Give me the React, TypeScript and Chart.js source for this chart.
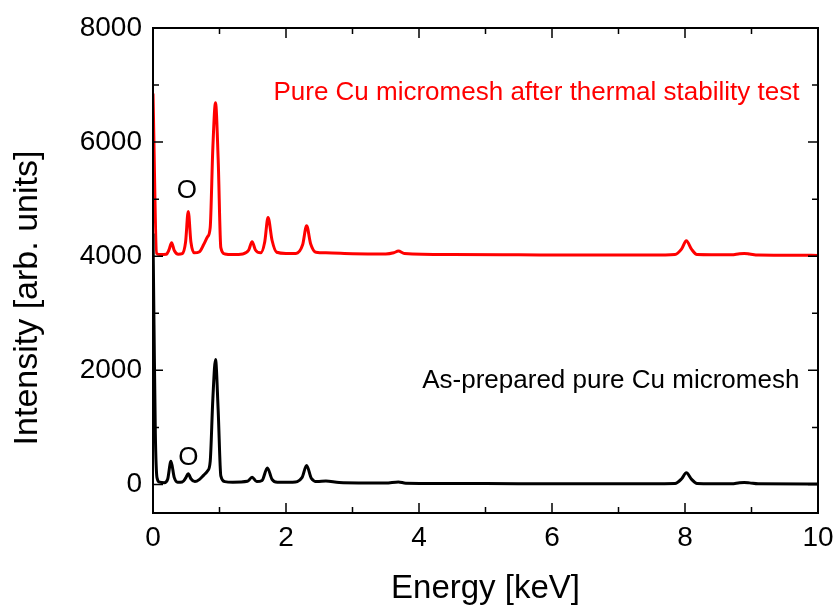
import React, { useEffect, useRef } from "react";
import { Chart, registerables } from "chart.js";

Chart.register(...registerables);

// Energy (keV) and intensity values
const energyAfter = [0, 0.055, 0.1, 0.2, 0.24, 0.28, 0.32, 0.38, 0.44, 0.49, 0.53, 0.57, 0.62, 0.7, 0.76, 0.82, 0.86, 0.9, 0.94, 0.98, 1.02, 1.08, 1.2, 1.35, 1.44, 1.49, 1.54, 1.62, 1.68, 1.73, 1.79, 1.86, 2.0, 2.15, 2.25, 2.31, 2.37, 2.45, 2.6, 3.0, 3.5, 3.62, 3.69, 3.78, 4.5, 5.5, 6.5, 7.5, 7.85, 7.95, 8.02, 8.1, 8.18, 8.7, 8.82, 8.89, 8.97, 9.1, 10];
const intensityAfter = [6850, 4050, 4030, 4035, 4110, 4235, 4100, 4035, 4045, 4250, 4785, 4250, 4060, 4080, 4200, 4340, 4500, 5900, 6690, 5700, 4150, 4040, 4030, 4040, 4110, 4255, 4110, 4060, 4250, 4680, 4280, 4070, 4050, 4050, 4200, 4535, 4220, 4070, 4060, 4045, 4040, 4060, 4090, 4050, 4030, 4025, 4020, 4020, 4030, 4130, 4270, 4120, 4030, 4025, 4045, 4050, 4040, 4020, 4015];

const energyPrepared = [0, 0.015, 0.035, 0.06, 0.1, 0.17, 0.22, 0.27, 0.32, 0.37, 0.44, 0.49, 0.53, 0.57, 0.63, 0.7, 0.76, 0.82, 0.86, 0.9, 0.94, 0.98, 1.02, 1.08, 1.2, 1.42, 1.49, 1.56, 1.64, 1.72, 1.79, 1.87, 2.1, 2.24, 2.31, 2.38, 2.47, 2.6, 2.8, 3.5, 3.69, 3.8, 5, 6, 7, 7.85, 7.95, 8.02, 8.1, 8.18, 8.7, 8.82, 8.89, 8.97, 9.1, 10];
const intensityPrepared = [4400, 2800, 900, 120, 40, 30, 90, 405, 120, 40, 45, 110, 190, 100, 50, 90, 160, 235, 400, 1500, 2190, 1300, 150, 50, 40, 55, 125, 50, 70, 290, 90, 40, 40, 120, 333, 110, 50, 60, 35, 25, 45, 22, 15, 12, 12, 18, 100, 204, 90, 18, 12, 30, 35, 28, 12, 8];

const xTickValues = [0, 2, 4, 6, 8, 10];
const xMinorValues = [1, 3, 5, 7, 9];
const yTickValues = [0, 2000, 4000, 6000, 8000];
const yMinorValues = [1000, 3000, 5000, 7000];

const xTitle = "Energy [keV]";
const yTitle = "Intensity [arb. units]";
const labelAfter = "Pure Cu micromesh after thermal stability test";
const labelPrepared = "As-prepared pure Cu micromesh";
const oxygenLabel = "O";

const FONT = "'Liberation Sans', Arial, sans-serif";

const framePlugin = {
  id: "frame",
  afterDatasetsDraw(chart: any) {
    const { ctx, chartArea: a, scales } = chart;
    const xs = scales.x;
    const ys = scales.y;
    ctx.save();
    ctx.strokeStyle = "#000";
    ctx.lineWidth = 2;
    ctx.strokeRect(a.left, a.top, a.right - a.left, a.bottom - a.top);
    const major = 10;
    const minor = 6;
    ctx.lineWidth = 1.5;
    const xt = (v: number, len: number) => {
      const px = xs.getPixelForValue(v);
      ctx.beginPath();
      ctx.moveTo(px, a.bottom);
      ctx.lineTo(px, a.bottom - len);
      ctx.moveTo(px, a.top);
      ctx.lineTo(px, a.top + len);
      ctx.stroke();
    };
    const yt = (v: number, len: number) => {
      const py = ys.getPixelForValue(v);
      ctx.beginPath();
      ctx.moveTo(a.left, py);
      ctx.lineTo(a.left + len, py);
      ctx.moveTo(a.right, py);
      ctx.lineTo(a.right - len, py);
      ctx.stroke();
    };
    xTickValues.forEach((v) => xt(v, major));
    xMinorValues.forEach((v) => xt(v, minor));
    yTickValues.forEach((v) => yt(v, major));
    yMinorValues.forEach((v) => yt(v, minor));

    ctx.font = `26px ${FONT}`;
    ctx.textBaseline = "middle";
    ctx.textAlign = "right";
    ctx.fillStyle = "#ff0000";
    ctx.fillText(labelAfter, xs.getPixelForValue(9.72), ys.getPixelForValue(6860));
    ctx.fillStyle = "#000";
    ctx.fillText(labelPrepared, xs.getPixelForValue(9.72), ys.getPixelForValue(1820));
    ctx.textAlign = "center";
    ctx.fillText(oxygenLabel, xs.getPixelForValue(0.51), ys.getPixelForValue(5150));
    ctx.fillText(oxygenLabel, xs.getPixelForValue(0.53), ys.getPixelForValue(460));

    // axis titles
    ctx.textBaseline = "alphabetic";
    ctx.textAlign = "center";
    ctx.font = `33px ${FONT}`;
    ctx.fillText(xTitle, (a.left + a.right) / 2, 598);
    ctx.translate(37, 298);
    ctx.rotate(-Math.PI / 2);
    ctx.font = `34px ${FONT}`;
    ctx.fillText(yTitle, 0, 0);
    ctx.restore();
  },
};

export default function App() {
  const ref = useRef<HTMLCanvasElement | null>(null);
  useEffect(() => {
    document.body.style.margin = "0";
    if (!ref.current) return;
    const chart = new Chart(ref.current, {
      type: "line",
      data: {
        datasets: [
          {
            label: "prepared",
            data: energyPrepared.map((x, i) => ({ x, y: intensityPrepared[i] })),
            borderColor: "#000000",
            borderWidth: 3,
            pointRadius: 0,
            cubicInterpolationMode: "monotone",
          },
          {
            label: "after",
            data: energyAfter.map((x, i) => ({ x, y: intensityAfter[i] })),
            borderColor: "#ff0000",
            borderWidth: 3,
            pointRadius: 0,
            cubicInterpolationMode: "monotone",
          },
        ],
      },
      options: {
        animation: false,
        responsive: false,
        maintainAspectRatio: false,
        layout: { padding: { top: 28, right: 19, left: 0, bottom: 0 } },
        plugins: { legend: { display: false }, tooltip: { enabled: false } },
        scales: {
          x: {
            type: "linear",
            min: 0,
            max: 10,
            grid: { display: false, drawTicks: false },
            border: { display: false },
            afterBuildTicks: (s: any) => {
              s.ticks = xTickValues.map((value) => ({ value }));
            },
            afterFit: (s: any) => {
              s.height = 92;
              s.paddingLeft = 0;
              s.paddingRight = 0;
            },
            ticks: {
              color: "#000",
              font: { family: FONT, size: 28 },
              padding: 8,
              maxRotation: 0,
              callback: (v: any) => String(v),
            },
          },
          y: {
            type: "linear",
            min: -500,
            max: 8000,
            grid: { display: false, drawTicks: false },
            border: { display: false },
            afterBuildTicks: (s: any) => {
              s.ticks = yTickValues.map((value) => ({ value }));
            },
            afterFit: (s: any) => {
              s.width = 153;
              s.paddingTop = 0;
              s.paddingBottom = 0;
            },
            ticks: {
              color: "#000",
              font: { family: FONT, size: 28 },
              padding: 11,
              callback: (v: any) => String(v),
            },
          },
        },
      },
      plugins: [framePlugin],
    } as any);
    return () => chart.destroy();
  }, []);
  return (
    <div style={{ position: "absolute", left: 0, top: 0, width: 837, height: 605, background: "#fff" }}>
      <canvas ref={ref} width={837} height={605} style={{ width: 837, height: 605 }} />
    </div>
  );
}
